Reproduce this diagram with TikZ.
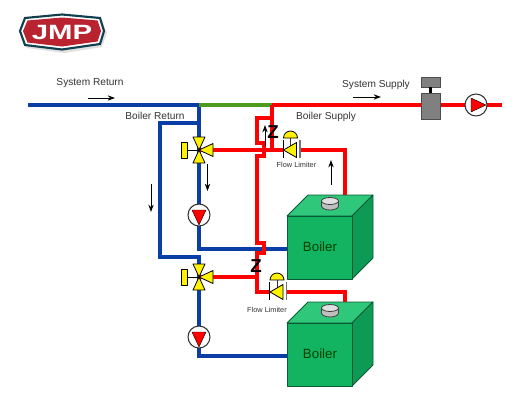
\documentclass[tikz,border=0pt]{standalone}
\usepackage{fontspec}
\setmainfont{Liberation Sans}
\usetikzlibrary{arrows.meta}
\definecolor{pipeblue}{HTML}{0B3DA6}
\definecolor{pipered}{HTML}{FF0000}
\definecolor{pipegreen}{HTML}{4E9A1C}
\definecolor{bfront}{HTML}{12B461}
\definecolor{btop}{HTML}{2FC77A}
\definecolor{bside}{HTML}{0C9A54}
\definecolor{bline}{HTML}{0A5A35}
\definecolor{vyellow}{HTML}{FFF200}
\definecolor{logored}{HTML}{B8232F}
\definecolor{logoteal}{HTML}{123F4C}
\definecolor{txt}{HTML}{333333}
\tikzset{
  bluepipe/.style={draw=pipeblue,line width=2.6pt,line join=miter},
  redpipe/.style={draw=pipered,line width=2.6pt,line join=miter},
  greenpipe/.style={draw=pipegreen,line width=2.6pt},
  lbl/.style={font=\fontsize{7.6pt}{8pt}\selectfont,text=txt,inner sep=0pt},
  tiny/.style={font=\fontsize{5.5pt}{6pt}\selectfont,text=txt,inner sep=0pt},
  zed/.style={font=\bfseries\fontsize{14pt}{15pt}\selectfont,inner sep=0pt},
  flow/.style={draw=black,line width=0.7pt,-{Stealth[length=5.5pt,width=4pt]}},
  ytri/.style={draw=black,line width=0.6pt,fill=vyellow,line join=round},
  boilertxt/.style={font=\fontsize{10pt}{11pt}\selectfont,text=black!75!green,inner sep=0pt},
  pumpcirc/.style={circle,draw=black!80,fill=white,line width=0.8pt,minimum size=16.5pt,inner sep=0pt},
  pumpfill/.style={fill=pipered,draw=black,line width=0.3pt,line join=round},
  bface/.style={draw=bline,line width=0.7pt,line join=round},
  pics/boiler/.style={code={
    \path[bface,fill=btop] (-21,-10.5) -- (0,-31.5) -- (65,-31.5) -- (44,-10.5) -- cycle;
    \path[bface,fill=bside] (44,-10.5) -- (65,-31.5) -- (65,31.5) -- (44,52.5) -- cycle;
    \path[bface,fill=bfront] (-21,-10.5) rectangle (44,52.5);
    \path[draw=black!75,line width=0.6pt,fill=black!25] (13.5,-25.5) -- (13.5,-20.5) arc[start angle=180,end angle=360,x radius=8.5,y radius=-4] -- (30.5,-25.5) -- cycle;
    \path[draw=black!75,line width=0.6pt,fill=black!12] (22,-25.5) ellipse[x radius=8.5,y radius=3.5];
  }},
  pics/mixvalve/.style={code={
    \path[ytri] (0,0) -- (-6,-13) -- (6,-13) -- cycle;
    \path[ytri] (0,0) -- (-6,13) -- (6,13) -- cycle;
    \path[ytri] (0,0) -- (14,-6.5) -- (14,6.5) -- cycle;
    \draw[black,line width=0.6pt] (-13,0) -- (0,0);
    \path[ytri] (-18,-8) rectangle (-12,8);
  }},
  pics/limiter/.style={code={
    \fill[white] (-7.5,-2.5) rectangle (9.5,2.5);
    \draw[black,line width=0.7pt] (-7.5,-10) -- (-7.5,8);
    \draw[black!55,line width=0.9pt] (9.5,-10) -- (9.5,8);
    \draw[black!80,line width=0.6pt] (0,-12) -- (0,0);
    \path[ytri] (-7,-12) arc[start angle=180,end angle=360,x radius=7,y radius=7] -- cycle;
    \path[ytri] (-7,0) -- (6,-7.5) -- (6,7.5) -- cycle;
  }},
}
\begin{document}
\begin{tikzpicture}[x=0.75pt,y=-0.75pt]
\useasboundingbox (0,0) rectangle (531,400);
% logo
\path[fill=black!12] (22,33) -- (27,21) -- (64,17) -- (102,21) -- (107,33) -- (102,47) -- (64,53) -- (27,48) -- cycle;
\path[draw=logoteal,line width=1.6pt,fill=white] (20,31) -- (25,18) -- (62,14.5) -- (100,18) -- (104,31) -- (100,44) -- (62,49.5) -- (25,45) -- cycle;
\path[fill=logored] (23,31) -- (27.5,20.5) -- (62,17.5) -- (97.5,20.5) -- (101,31) -- (97.5,41.5) -- (62,46.5) -- (27.5,42.5) -- cycle;
\node[font=\bfseries\fontsize{15.5pt}{16pt}\selectfont,text=white,inner sep=0pt,xscale=1.42] (logo) at (62,32) {JMP};

% named junctions
\coordinate (sysL) at (28,105);
\coordinate (jB) at (199,105);
\coordinate (jR) at (272,105);
\coordinate (sysR) at (502,105);
\coordinate (ret) at (199,123);
\coordinate (v1) at (199,150);
\coordinate (v2) at (199,277);
\coordinate (p1) at (199,215);
\coordinate (p2) at (199,337);
\coordinate (fl1) at (290.5,150);
\coordinate (fl2) at (277,292);

% pipes
\draw[bluepipe] (sysL) -- (jB) -- (ret) -- (v1) -- (p1) |- (288,249);
\draw[bluepipe] (ret) -- (160,123) -- (160,257) -- (199,257) -- (v2) -- (p2) |- (288,356);
\draw[greenpipe] (jB) -- (jR);
\draw[redpipe] (jR) -- (sysR);
\draw[redpipe] (jR) -- (272,150) -- (fl1);
\draw[redpipe] (272,118) -- (257,118) -- (257,143) -- (264,143) -- (264,156) -- (257,156) -- (257,243) -- (264,243) -- (264,253) -- (257,253) -- (257,292) -- (fl2);
\draw[redpipe] (v1) -- (272,150);
\draw[redpipe] (v2) -- (257,277);
\draw[redpipe] (fl1) -- (345,150) -- (345,195);
\draw[redpipe] (fl2) -- (345,292) -- (345,302);

% boilers
\pic at (308,226.5) {boiler};
\pic at (308,333.5) {boiler};
\node[boilertxt] (b1) at (320,246.5) {Boiler};
\node[boilertxt] (b2) at (320,353.5) {Boiler};

% valves and pumps
\pic at (v1) {mixvalve};
\pic at (v2) {mixvalve};
\pic at (fl1) {limiter};
\pic at (fl2) {limiter};
\node[pumpcirc] (pump1) at (p1) {};
\node[pumpcirc] (pump2) at (p2) {};
\path[pumpfill] (192,210) -- (206,210) -- (199,225) -- cycle;
\path[pumpfill] (192,332) -- (206,332) -- (199,347) -- cycle;
\node[pumpcirc] (pump3) at (476,105) {};
\path[pumpfill] (471,98) -- (471,112) -- (486,105) -- cycle;

% supply control valve
\path[draw=black!70,line width=0.5pt,fill=black!50] (421,93) rectangle (440,119);
\path[draw=black!70,line width=0.5pt,fill=black!50] (421,77) rectangle (440,87);
\draw[black,line width=2pt] (430.5,87) -- (430.5,93);

% labels
\node[lbl] (sr) at (90,83) {System Return};
\node[lbl] (br) at (155,115.5) {Boiler Return};
\node[lbl] (ss) at (376,84.5) {System Supply};
\node[lbl] (bs) at (326,117) {Boiler Supply};
\node[tiny] (fla) at (296.5,165) {Flow Limiter};
\node[tiny] (flb) at (267,309.5) {Flow Limiter};
\node[zed] (z1) at (273,132.5) {Z};
\node[zed] (z2) at (256,266) {Z};

% flow arrows
\coordinate (a1s) at (88,98); \coordinate (a1e) at (115,98);
\coordinate (a2s) at (353,97); \coordinate (a2e) at (381,97);
\coordinate (a3s) at (265,146); \coordinate (a3e) at (265,125);
\coordinate (a4s) at (207.5,164); \coordinate (a4e) at (207.5,191);
\coordinate (a5s) at (151,184); \coordinate (a5e) at (151,212);
\coordinate (a6s) at (331,185); \coordinate (a6e) at (331,160);
\draw[flow] (a1s) -- (a1e);
\draw[flow] (a2s) -- (a2e);
\draw[flow] (a3s) -- (a3e);
\draw[flow] (a4s) -- (a4e);
\draw[flow] (a5s) -- (a5e);
\draw[flow] (a6s) -- (a6e);
\end{tikzpicture}
\end{document}
